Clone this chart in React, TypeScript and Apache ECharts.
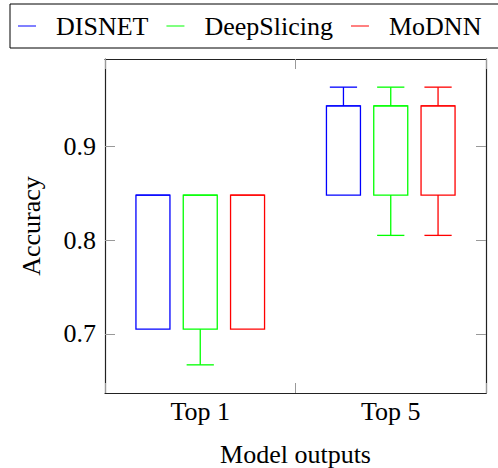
import React, { useEffect, useRef } from "react";
import * as echarts from "echarts";

const categories = ["Top 1", "Top 5"];
const seriesNames = ["DISNET", "DeepSlicing", "MoDNN"];
const seriesColors = ["#0000ff", "#00ff00", "#ff0000"];
// [min, q1, median, q3, max] per category
const disnetStats = [
  [0.705, 0.705, 0.848, 0.848, 0.848],
  [0.848, 0.848, 0.943, 0.943, 0.963],
];
const deepSlicingStats = [
  [0.667, 0.705, 0.848, 0.848, 0.848],
  [0.805, 0.848, 0.943, 0.943, 0.963],
];
const moDNNStats = [
  [0.705, 0.705, 0.848, 0.848, 0.848],
  [0.805, 0.848, 0.943, 0.943, 0.963],
];
const yTickValues = [0.7, 0.8, 0.9];
const yMin = 0.637;
const yMax = 0.993;

const FONT = "'Liberation Serif', 'DejaVu Serif', serif";

export default function App() {
  const ref = useRef<HTMLDivElement>(null);
  useEffect(() => {
    if (!ref.current) return;
    document.body.style.margin = "0";
    const chart = echarts.init(ref.current, null, { renderer: "svg" });
    const allStats = [disnetStats, deepSlicingStats, moDNNStats];
    const makeSeries = (sIdx: number) => ({
      type: "custom",
      name: seriesNames[sIdx],
      itemStyle: { color: seriesColors[sIdx] },
      encode: { x: 0, y: [1, 2, 3, 4, 5] },
      data: allStats[sIdx].map((s, i) => [i, ...s]),
      renderItem: (params: any, api: any) => {
        const idx = api.value(0);
        const band = api.size([1, 0])[0];
        const color = seriesColors[sIdx];
        const cx = api.coord([idx, 0])[0] + (sIdx - 1) * band * 0.2483;
        const w = band * 0.1785;
        const cap = band * 0.143;
        const yMinP = api.coord([idx, api.value(1)])[1];
        const yQ1 = api.coord([idx, api.value(2)])[1];
        const yMed = api.coord([idx, api.value(3)])[1];
        const yQ3 = api.coord([idx, api.value(4)])[1];
        const yMaxP = api.coord([idx, api.value(5)])[1];
        const st = { stroke: color, lineWidth: 1.3, fill: "none" };
        const children: any[] = [
          { type: "rect", shape: { x: cx - w / 2, y: yQ3, width: w, height: yQ1 - yQ3 }, style: st },
          { type: "line", shape: { x1: cx - w / 2, y1: yMed, x2: cx + w / 2, y2: yMed }, style: st },
        ];
        if (yMaxP < yQ3 - 0.5) {
          children.push({ type: "line", shape: { x1: cx, y1: yQ3, x2: cx, y2: yMaxP }, style: st });
          children.push({ type: "line", shape: { x1: cx - cap / 2, y1: yMaxP, x2: cx + cap / 2, y2: yMaxP }, style: st });
        }
        if (yMinP > yQ1 + 0.5) {
          children.push({ type: "line", shape: { x1: cx, y1: yQ1, x2: cx, y2: yMinP }, style: st });
          children.push({ type: "line", shape: { x1: cx - cap / 2, y1: yMinP, x2: cx + cap / 2, y2: yMinP }, style: st });
        }
        return { type: "group", children };
      },
    });

    const tickStyle = { show: true, inside: true, length: 10, lineStyle: { color: "#999", width: 1 } };
    const lineStyle = { show: true, lineStyle: { color: "#222", width: 1.2 } };

    chart.setOption({
      animation: false,
      textStyle: { fontFamily: FONT },
      legend: {
        left: 10,
        top: 4,
        width: 560,
        data: seriesNames.map((n) => ({ name: n, icon: "rect" })),
        itemWidth: 18,
        itemHeight: 1,
        itemGap: 18,
        padding: [9, 20, 9, 8],
        borderColor: "#000",
        borderWidth: 1,
        textStyle: { fontSize: 26, color: "#000", fontFamily: FONT, padding: [0, 0, 0, 15] },
      },
      grid: { left: 105, right: 12, top: 59, bottom: 75, containLabel: false, outerBoundsMode: "none" },
      xAxis: [
        {
          type: "category",
          data: categories,
          position: "bottom",
          axisLine: lineStyle,
          axisTick: tickStyle,
          axisLabel: { fontSize: 26, color: "#000", fontFamily: FONT, margin: 5 },
          name: "Model outputs",
          nameLocation: "middle",
          nameGap: 49,
          nameTextStyle: { fontSize: 26, lineHeight: 24, color: "#000", fontFamily: FONT },
        },
        {
          type: "category",
          data: categories,
          position: "top",
          axisLine: lineStyle,
          axisTick: tickStyle,
          axisLabel: { show: false },
        },
      ],
      yAxis: [
        {
          type: "value",
          min: yMin,
          max: yMax,
          position: "left",
          axisLine: lineStyle,
          axisTick: { ...tickStyle, customValues: yTickValues },
          axisLabel: {
            customValues: yTickValues,
            fontSize: 26,
            color: "#000",
            fontFamily: FONT,
            margin: 9,
            formatter: (v: number) => v.toFixed(1),
          },
          splitLine: { show: false },
          name: "Accuracy",
          nameLocation: "middle",
          nameGap: 61,
          nameTextStyle: { fontSize: 26, color: "#000", fontFamily: FONT },
        },
        {
          type: "value",
          min: yMin,
          max: yMax,
          position: "right",
          axisLine: lineStyle,
          axisTick: { ...tickStyle, customValues: yTickValues },
          axisLabel: { show: false },
          splitLine: { show: false },
        },
      ],
      series: [0, 1, 2].map(makeSeries),
    });
    return () => chart.dispose();
  }, []);
  return <div ref={ref} style={{ width: 498, height: 468 }} />;
}
